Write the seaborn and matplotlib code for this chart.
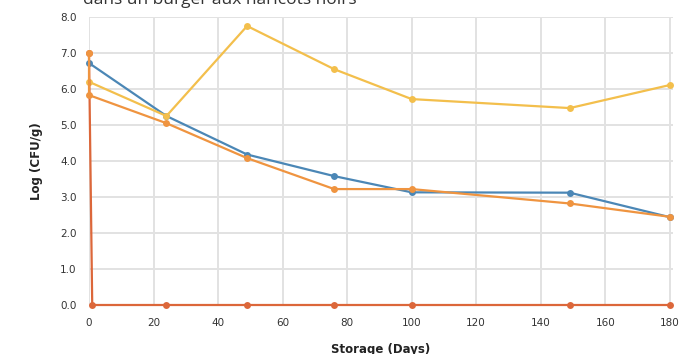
import matplotlib
matplotlib.use("Agg")
import matplotlib.pyplot as plt
import seaborn as sns
import pandas as pd

# Data
days_blue = [0, 24, 49, 76, 100, 149, 180]
blue = [6.72, 5.25, 4.18, 3.58, 3.13, 3.12, 2.44]
days_yellow = [0, 24, 49, 76, 100, 149, 180]
yellow = [6.2, 5.25, 7.75, 6.55, 5.72, 5.47, 6.11]
days_orange = [0, 0, 24, 49, 76, 100, 149, 180]
orange = [7.0, 5.83, 5.05, 4.08, 3.22, 3.22, 2.82, 2.45]
days_red = [0, 1, 24, 49, 76, 100, 149, 180]
red = [7.0, 0.0, 0.0, 0.0, 0.0, 0.0, 0.0, 0.0]
y_ticks = [0, 1, 2, 3, 4, 5, 6, 7, 8]
x_ticks = [0, 20, 40, 60, 80, 100, 120, 140, 160, 180]

series = [("A", days_blue, blue), ("B", days_yellow, yellow),
          ("D", days_red, red), ("C", days_orange, orange)]
rows = []
for name, xs, ys in series:
    for i, (x, y) in enumerate(zip(xs, ys)):
        rows.append({"series": name, "order": i, "day": x, "val": y})
df = pd.DataFrame(rows)
palette = {"A": "#4b87b6", "B": "#f3bf4c", "C": "#ef9440", "D": "#dc673a"}

sns.set_theme(style="white")
fig = plt.figure(figsize=(7.0, 3.54), dpi=100)
ax = fig.add_axes([89/700, 1-305/354, (673-89)/700, (305-17)/354])

for name, xs, ys in series:
    sub = df[df.series == name]
    sns.lineplot(data=sub, x="day", y="val", sort=False, estimator=None,
                 color=palette[name], marker="o", markersize=5,
                 markeredgewidth=0, linewidth=1.6, ax=ax, legend=False,
                 zorder=3, clip_on=False)

ax.set_xlim(0, 181)
ax.set_ylim(0, 8)
ax.set_xticks(x_ticks)
ax.set_yticks(y_ticks)
ax.set_yticklabels([f"{v:.1f}" for v in y_ticks])
ax.grid(True, color="#e2e2e2", linewidth=1.4)
for s in ax.spines.values():
    s.set_visible(False)
ax.tick_params(axis="both", labelsize=7.5, colors="#333333", length=0, pad=9)
ax.tick_params(axis="x", pad=9)
ax.set_xlabel("Storage (Days)", fontsize=8.5, fontweight="bold", color="#222222", labelpad=11)
ax.set_ylabel("Log (CFU/g)", fontsize=8.5, fontweight="bold", color="#222222", labelpad=12)

fig.text(220/700, 1-4/354, "dans un burger aux haricots noirs", ha="center",
         va="baseline", fontsize=12.5, color="#333333", family="Open Sans")

fig.savefig("out.png", dpi=100)
